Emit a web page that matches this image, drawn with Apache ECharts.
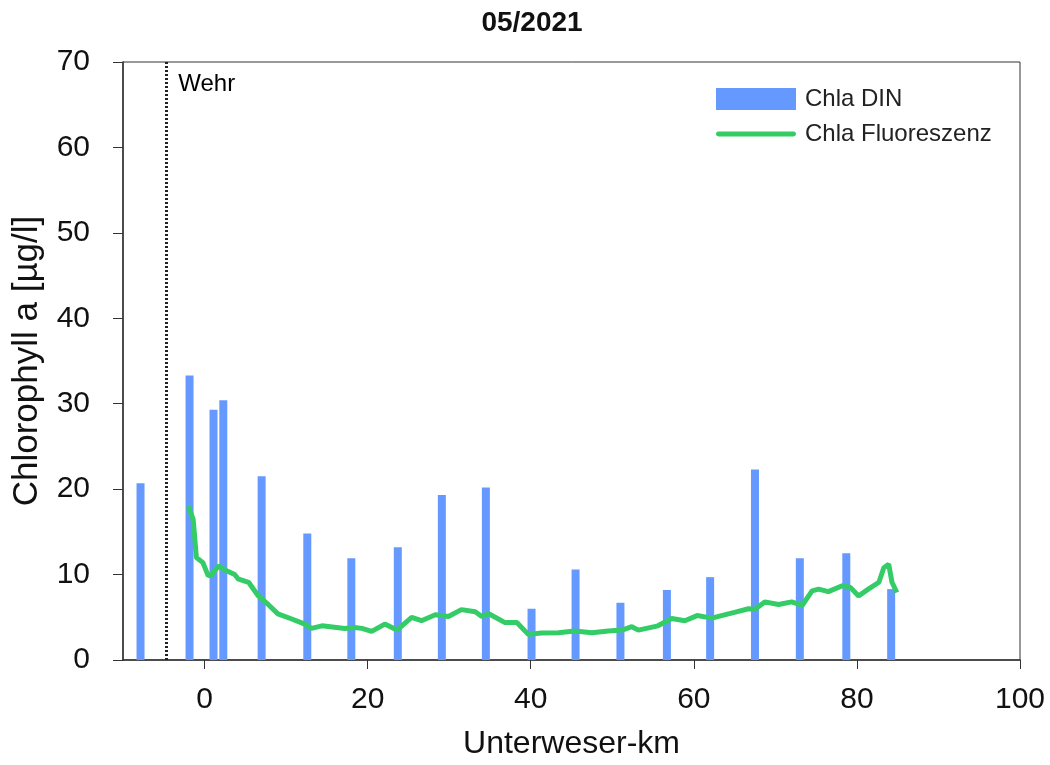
<!DOCTYPE html>
<html>
<head>
<meta charset="utf-8">
<script src="https://cdn.jsdelivr.net/npm/echarts@6/dist/echarts.min.js"></script>
<style>html,body{margin:0;padding:0;background:#fff}#c{width:1050px;height:765px}</style>
</head>
<body>
<div id="c"></div>
<script>
// ---- data ----
const titleText = '05/2021';
const xTicks = [0, 20, 40, 60, 80, 100];
const wehrKm = -4.7;
const wehrLabel = 'Wehr';
const dinKm = [-7.85, -1.84, 1.1, 2.3, 7.0, 12.6, 18.0, 23.7, 29.1, 34.5, 40.1, 45.5, 51.0, 56.7, 62.0, 67.5, 73.0, 78.7, 84.2];
const dinVal = [20.7, 33.3, 29.3, 30.4, 21.5, 14.8, 11.9, 13.2, 19.3, 20.2, 6.0, 10.6, 6.7, 8.2, 9.7, 22.3, 11.9, 12.5, 8.3];
const fluoKm = [-2.0, -1.4, -1.0, -0.2, 0.45, 0.86, 1.7, 2.7, 3.7, 4.1, 5.4, 6.6, 7.8, 9.0, 10.7, 12.3, 13.1, 14.4, 17.2, 18.4, 19.3, 20.5, 22.1, 23.6, 25.4, 26.6, 28.3, 29.9, 31.5, 33.2, 34.0, 34.8, 36.8, 38.3, 39.7, 41.3, 43.4, 45.4, 47.5, 49.5, 51.2, 52.4, 53.2, 55.6, 57.3, 58.9, 60.4, 62.2, 63.4, 65.1, 66.7, 67.5, 68.7, 70.4, 72.0, 73.3, 74.5, 75.3, 76.5, 78.2, 79.2, 80.2, 81.4, 82.7, 83.3, 83.9, 84.3, 84.9];
const fluoVal = [18.0, 16.5, 12.0, 11.4, 9.85, 10.0, 11.0, 10.45, 10.0, 9.5, 9.1, 7.5, 6.5, 5.4, 4.8, 4.2, 3.7, 4.0, 3.7, 3.8, 3.7, 3.35, 4.2, 3.5, 5.0, 4.6, 5.3, 5.1, 5.9, 5.65, 5.1, 5.45, 4.4, 4.4, 3.0, 3.15, 3.2, 3.4, 3.2, 3.4, 3.5, 3.9, 3.5, 4.0, 4.85, 4.6, 5.2, 4.9, 5.2, 5.6, 6.0, 5.95, 6.8, 6.5, 6.8, 6.4, 8.1, 8.3, 8.0, 8.7, 8.5, 7.5, 8.3, 9.1, 10.8, 11.2, 9.1, 7.9];

const FONT = '"Liberation Sans", Arial, sans-serif';
const chart = echarts.init(document.getElementById('c'), null, {renderer: 'canvas'});
chart.setOption({
  animation: false,
  backgroundColor: '#fff',
  title: {
    text: titleText, left: 527, top: 4, textAlign: 'center',
    textStyle: {fontFamily: FONT, fontSize: 28, fontWeight: 'bold', color: '#111'}
  },
  legend: {
    orient: 'vertical', left: 711, top: 82, itemWidth: 80, itemHeight: 22, itemGap: 11,
    textStyle: {fontFamily: FONT, fontSize: 24, color: '#222', padding: [0, 0, 0, 4]},
    data: [
      {name: 'Chla DIN', icon: 'rect'},
      {name: 'Chla Fluoreszenz', icon: 'path://M2,0 L78,0 A2.5,2.5 0 0 1 78,5 L2,5 A2.5,2.5 0 0 1 2,0 Z'}
    ]
  },
  grid: {left: 123, right: 30, top: 62, bottom: 104, show: true, borderColor: '#333', borderWidth: 1},
  xAxis: {
    type: 'value', min: -10, max: 100,
    name: 'Unterweser-km', nameLocation: 'middle', nameGap: 68,
    nameTextStyle: {fontFamily: FONT, fontSize: 32, color: '#111'},
    axisLine: {show: true, onZero: false, lineStyle: {color: '#333', width: 1.5}},
    axisTick: {show: true, inside: false, length: 9, customValues: xTicks, lineStyle: {color: '#333'}},
    axisLabel: {customValues: xTicks, margin: 25, fontFamily: FONT, fontSize: 30, color: '#111'},
    splitLine: {show: false}
  },
  yAxis: {
    type: 'value', min: 0, max: 70, interval: 10,
    name: 'Chlorophyll a [µg/l]', nameLocation: 'middle', nameGap: 78,
    nameTextStyle: {fontFamily: FONT, fontSize: 35, color: '#111'},
    axisLine: {show: true, onZero: false, lineStyle: {color: '#333', width: 1.5}},
    axisTick: {show: true, length: 10, lineStyle: {color: '#333'}},
    axisLabel: {margin: 33, fontFamily: FONT, fontSize: 30, color: '#111'},
    splitLine: {show: false}
  },
  series: [
    {
      name: 'Chla DIN', type: 'bar', barWidth: 8,
      itemStyle: {color: '#6699ff'},
      data: dinKm.map((k, i) => [k, dinVal[i]]),
      z: 2
    },
    {
      name: 'Chla Fluoreszenz', type: 'line', showSymbol: false, symbol: 'none',
      color: '#33cc66',
      lineStyle: {color: '#33cc66', width: 5},
      itemStyle: {color: '#33cc66'},
      data: fluoKm.map((k, i) => [k, fluoVal[i]]),
      z: 3,
      markLine: {
        silent: true, symbol: 'none', animation: false,
        lineStyle: {color: '#222', width: 3, type: [2, 2]},
        label: {show: false},
        data: [{xAxis: wehrKm}]
      }
    },
    {
      name: 'wehr', type: 'scatter', symbolSize: 0, silent: true,
      data: [[wehrKm, 67.4]],
      itemStyle: {opacity: 1},
      label: {show: true, position: 'right', distance: 12, formatter: wehrLabel,
              fontFamily: FONT, fontSize: 24, color: '#000'}
    }
  ]
});
</script>
</body>
</html>
